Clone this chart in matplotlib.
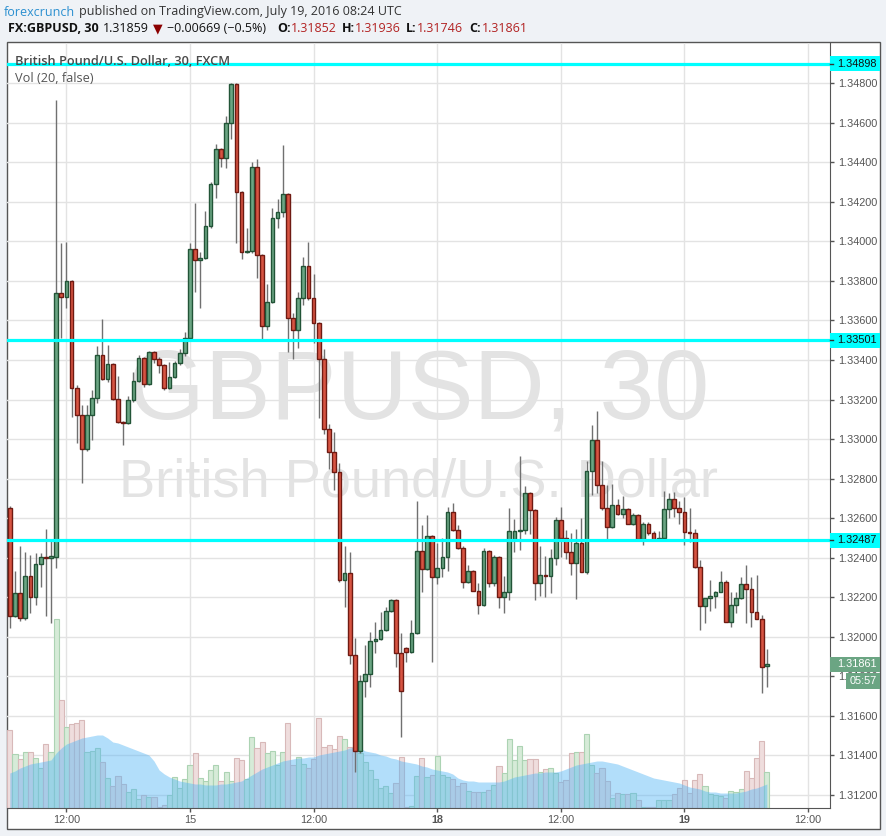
import numpy as np
import pandas as pd
import matplotlib
matplotlib.use("Agg")
import matplotlib.pyplot as plt
from matplotlib.patches import Rectangle
from matplotlib.ticker import FormatStrFormatter
from matplotlib.transforms import blended_transform_factory

plt.rcParams['font.family'] = ['Liberation Sans', 'DejaVu Sans']

# GBPUSD, 30 min bars (FXCM), 14 Jul 2016 06:30 -> 19 Jul 2016 08:00 UTC
opens = [
    1.32651, 1.32105, 1.32221, 1.32095, 1.32307, 1.32201, 1.32368, 1.32403, 1.32398, 1.32403,
    1.33739, 1.33718, 1.33800, 1.33258, 1.33122, 1.32949, 1.33122, 1.33207, 1.33425, 1.33304,
    1.33380, 1.33202, 1.33086, 1.33081, 1.33197, 1.33294, 1.33410, 1.33279, 1.33440, 1.33405,
    1.33375, 1.33258, 1.33314, 1.33385, 1.33435, 1.33511, 1.33961, 1.33906, 1.33916, 1.34078,
    1.34291, 1.34467, 1.34422, 1.34599, 1.34796, 1.34250, 1.33946, 1.33951, 1.34376, 1.33931,
    1.33572, 1.33693, 1.34118, 1.34149, 1.34240, 1.33612, 1.33552, 1.33713, 1.33875, 1.33713,
    1.33587, 1.33405, 1.33051, 1.32934, 1.32833, 1.32287, 1.32322, 1.31907, 1.31421, 1.31776,
    1.31811, 1.31978, 1.31988, 1.32034, 1.32130, 1.32185, 1.31917, 1.31942, 1.31922, 1.32019,
    1.32433, 1.32342, 1.32509, 1.32302, 1.32347, 1.32403, 1.32631, 1.32540, 1.32448, 1.32277,
    1.32332, 1.32231, 1.32160, 1.32433, 1.32272, 1.32403, 1.32201, 1.32226, 1.32494, 1.32535,
    1.32540, 1.32727, 1.32641, 1.32272, 1.32312, 1.32307, 1.32398, 1.32590, 1.32499, 1.32428,
    1.32373, 1.32474, 1.32327, 1.32838, 1.32995, 1.32767, 1.32651, 1.32555, 1.32666, 1.32621,
    1.32646, 1.32570, 1.32616, 1.32494, 1.32570, 1.32524, 1.32494, 1.32499, 1.32646, 1.32697,
    1.32651, 1.32631, 1.32530, 1.32524, 1.32353, 1.32155, 1.32195, 1.32206, 1.32226, 1.32277,
    1.32074, 1.32160, 1.32195, 1.32267, 1.32241, 1.32125, 1.32089, 1.31852,
]
highs = [
    1.32661, 1.32332, 1.32459, 1.32428, 1.32413, 1.32423, 1.32423, 1.32544, 1.32484, 1.34715,
    1.33992, 1.33997, 1.33805, 1.33273, 1.33172, 1.33172, 1.33248, 1.33471, 1.33607, 1.33476,
    1.33385, 1.33319, 1.33091, 1.33218, 1.33339, 1.33425, 1.33415, 1.33445, 1.33445, 1.33415,
    1.33380, 1.33390, 1.33395, 1.33455, 1.33541, 1.33992, 1.34194, 1.33946, 1.34154, 1.34301,
    1.34493, 1.34472, 1.34635, 1.34801, 1.34801, 1.34255, 1.34068, 1.34402, 1.34417, 1.33936,
    1.33785, 1.34169, 1.34214, 1.34487, 1.34245, 1.33638, 1.33744, 1.33921, 1.33997, 1.33835,
    1.33592, 1.33455, 1.33076, 1.33036, 1.32879, 1.32459, 1.32428, 1.31993, 1.31806, 1.31958,
    1.32024, 1.32074, 1.32125, 1.32150, 1.32190, 1.32190, 1.32019, 1.31947, 1.32084, 1.32686,
    1.32565, 1.32615, 1.32514, 1.32474, 1.32499, 1.32656, 1.32676, 1.32565, 1.32459, 1.32363,
    1.32337, 1.32272, 1.32448, 1.32438, 1.32413, 1.32408, 1.32307, 1.32651, 1.32595, 1.32914,
    1.32763, 1.32732, 1.32646, 1.32459, 1.32408, 1.32443, 1.32605, 1.32656, 1.32540, 1.32524,
    1.32544, 1.32600, 1.32889, 1.33071, 1.33142, 1.32889, 1.32767, 1.32772, 1.32697, 1.32712,
    1.32651, 1.32626, 1.32621, 1.32580, 1.32580, 1.32535, 1.32535, 1.32737, 1.32727, 1.32732,
    1.32686, 1.32707, 1.32651, 1.32544, 1.32388, 1.32195, 1.32287, 1.32231, 1.32332, 1.32287,
    1.32226, 1.32226, 1.32302, 1.32363, 1.32302, 1.32312, 1.32110, 1.31936,
]
lows = [
    1.32044, 1.32100, 1.32079, 1.32084, 1.32120, 1.32160, 1.32252, 1.32105, 1.32069, 1.32347,
    1.33511, 1.33663, 1.33111, 1.32980, 1.32778, 1.32939, 1.32995, 1.33182, 1.33299, 1.33289,
    1.33197, 1.33081, 1.32970, 1.33076, 1.33187, 1.33289, 1.33264, 1.33273, 1.33385, 1.33334,
    1.33248, 1.33253, 1.33309, 1.33375, 1.33420, 1.33506, 1.33744, 1.33663, 1.33911, 1.34068,
    1.34220, 1.34376, 1.34371, 1.34518, 1.33992, 1.33911, 1.33941, 1.33941, 1.33815, 1.33506,
    1.33552, 1.33688, 1.34068, 1.34123, 1.33440, 1.33405, 1.33460, 1.33678, 1.33703, 1.33486,
    1.33106, 1.33026, 1.32848, 1.32742, 1.32277, 1.32150, 1.31861, 1.31315, 1.31411, 1.31695,
    1.31745, 1.31917, 1.31983, 1.32029, 1.32125, 1.31846, 1.31492, 1.31871, 1.31917, 1.32014,
    1.32226, 1.32337, 1.31871, 1.32267, 1.32302, 1.32332, 1.32535, 1.32443, 1.32246, 1.32272,
    1.32231, 1.32115, 1.32155, 1.32252, 1.32257, 1.32145, 1.32120, 1.32185, 1.32428, 1.32438,
    1.32519, 1.32519, 1.32185, 1.32206, 1.32201, 1.32221, 1.32363, 1.32403, 1.32393, 1.32312,
    1.32190, 1.32327, 1.32317, 1.32717, 1.32727, 1.32641, 1.32494, 1.32550, 1.32616, 1.32600,
    1.32570, 1.32565, 1.32484, 1.32463, 1.32514, 1.32484, 1.32484, 1.32494, 1.32600, 1.32605,
    1.32570, 1.32463, 1.32479, 1.32347, 1.32034, 1.32069, 1.32130, 1.32145, 1.32226, 1.32074,
    1.32049, 1.32120, 1.32190, 1.32069, 1.32049, 1.32089, 1.31715, 1.31746,
]
closes = [
    1.32105, 1.32221, 1.32095, 1.32307, 1.32201, 1.32368, 1.32403, 1.32398, 1.32408, 1.33739,
    1.33718, 1.33800, 1.33258, 1.33122, 1.32949, 1.33122, 1.33207, 1.33425, 1.33304, 1.33380,
    1.33202, 1.33086, 1.33081, 1.33197, 1.33294, 1.33410, 1.33279, 1.33440, 1.33405, 1.33375,
    1.33258, 1.33314, 1.33385, 1.33435, 1.33511, 1.33961, 1.33906, 1.33916, 1.34078, 1.34291,
    1.34467, 1.34422, 1.34599, 1.34796, 1.34250, 1.33946, 1.33951, 1.34376, 1.33931, 1.33572,
    1.33693, 1.34118, 1.34149, 1.34240, 1.33612, 1.33552, 1.33713, 1.33875, 1.33713, 1.33587,
    1.33405, 1.33051, 1.32934, 1.32833, 1.32287, 1.32322, 1.31907, 1.31421, 1.31776, 1.31811,
    1.31978, 1.31988, 1.32034, 1.32130, 1.32185, 1.31917, 1.31725, 1.31922, 1.32019, 1.32433,
    1.32342, 1.32509, 1.32302, 1.32347, 1.32403, 1.32631, 1.32540, 1.32448, 1.32277, 1.32332,
    1.32231, 1.32160, 1.32433, 1.32272, 1.32403, 1.32201, 1.32226, 1.32535, 1.32535, 1.32540,
    1.32727, 1.32641, 1.32272, 1.32312, 1.32307, 1.32398, 1.32590, 1.32499, 1.32428, 1.32373,
    1.32474, 1.32327, 1.32838, 1.32995, 1.32767, 1.32651, 1.32555, 1.32666, 1.32621, 1.32646,
    1.32570, 1.32616, 1.32494, 1.32570, 1.32524, 1.32494, 1.32499, 1.32646, 1.32697, 1.32651,
    1.32631, 1.32530, 1.32524, 1.32353, 1.32155, 1.32195, 1.32206, 1.32226, 1.32277, 1.32074,
    1.32160, 1.32195, 1.32267, 1.32241, 1.32125, 1.32089, 1.31846, 1.31861,
]
# tick volume and its 20 bar average
volumes = [
    780, 540, 490, 560, 560, 500, 400, 640, 560, 1890,
    1080, 810, 840, 850, 880, 560, 570, 600, 460, 300,
    220, 320, 240, 160, 190, 90, 130, 110, 110, 10,
    30, 130, 310, 200, 290, 430, 550, 300, 270, 380,
    430, 270, 360, 270, 500, 480, 290, 710, 600, 660,
    550, 570, 430, 560, 850, 430, 510, 440, 400, 490,
    900, 610, 630, 590, 720, 690, 610, 590, 550, 460,
    380, 290, 200, 220, 150, 250, 510, 10, 20, 320,
    500, 310, 330, 520, 330, 310, 290, 220, 250, 170,
    160, 160, 160, 180, 230, 420, 350, 690, 480, 620,
    480, 490, 490, 360, 390, 400, 350, 260, 280, 550,
    560, 560, 740, 430, 350, 400, 270, 100, 150, 140,
    140, 150, 80, 10, 10, 10, 80, 80, 80, 140,
    200, 280, 150, 280, 340, 220, 140, 130, 120, 100,
    170, 160, 190, 370, 300, 500, 670, 360,
]
vol_ma = [
    350, 370, 400, 420, 440, 450, 460, 470, 480, 550,
    600, 640, 660, 680, 700, 710, 720, 730, 730, 700,
    660, 650, 630, 610, 590, 570, 550, 530, 470, 380,
    340, 310, 290, 270, 260, 250, 240, 240, 230, 230,
    230, 240, 240, 250, 260, 270, 300, 330, 360, 390,
    410, 430, 450, 470, 480, 490, 500, 500, 510, 510,
    530, 540, 550, 560, 570, 580, 600, 610, 600, 570,
    560, 550, 530, 520, 500, 490, 470, 460, 450, 440,
    420, 410, 390, 380, 370, 360, 340, 300, 280, 270,
    270, 260, 260, 260, 260, 260, 270, 290, 310, 320,
    330, 340, 350, 350, 360, 360, 360, 370, 390, 410,
    430, 440, 450, 460, 470, 470, 460, 450, 440, 420,
    400, 380, 360, 340, 320, 300, 290, 280, 270, 260,
    250, 230, 210, 200, 190, 170, 160, 160, 150, 150,
    150, 150, 160, 170, 190, 200, 220, 240,
]
levels = [1.34898, 1.33501, 1.32487]
price_ticks = np.round(np.arange(1.312, 1.3481, 0.002), 3)
last_price = 1.31861
countdown = "05:57"

# bar clock: market shut Fri 21:00 -> Sun 21:00 UTC, plus empty slots to the right
t = pd.date_range("2016-07-14 06:30", "2016-07-19 13:00", freq="30min")
times = t[~((t >= "2016-07-15 21:00") & (t < "2016-07-17 21:00"))]
tick_idx = [i for i, ts in enumerate(times) if ts.minute == 0 and ts.hour in (0, 12)]
tick_lab = ["12:00" if times[i].hour == 12 else str(times[i].day) for i in tick_idx]

W, H = 887, 836
fig = plt.figure(figsize=(W / 100, H / 100), dpi=100, facecolor='#eff2f6')


def fx(px):
    return px / W


def fy(py):
    return 1 - py / H


fig.patches.append(Rectangle((fx(7), fy(829)), fx(880) - fx(7), fy(42) - fy(829),
                             transform=fig.transFigure, facecolor='white',
                             edgecolor='#555555', lw=1, zorder=-1))
ax = fig.add_axes([fx(7), fy(808), fx(830) - fx(7), fy(43) - fy(808)])
ax.set_facecolor('none')

o, h, l, c = map(np.array, (opens, highs, lows, closes))
x = np.arange(len(o))
up = c >= o
GREEN, GREEN_EDGE = '#6ba583', '#225437'
RED, RED_EDGE = '#d75442', '#6f1a12'

ymin, ymax = 1.31133, 1.35004
ax.set_xlim(-0.54, 159.26)
ax.set_ylim(ymin, ymax)

# watermark
wm = dict(transform=ax.transAxes, ha='center', va='center', color='#e3e3e3', zorder=0.2)
ax.text(0.5, 0.543, "GBPUSD, 30", fontsize=71, **wm)
ax.text(0.5, 0.425, "British Pound/U.S. Dollar", fontsize=39, **wm)

ax.set_axisbelow(True)
ax.grid(True, color='#e3e3e3', lw=1)

# volume pane in the bottom of the chart
vt = ax.get_xaxis_transform()
vol_top = 7650
ax.bar(x, np.array(volumes) / vol_top, width=1.0, transform=vt,
       color=np.where(up, '#d6ebd8', '#efdddd'),
       edgecolor=np.where(up, '#acd3b3', '#d8b9b9'),
       linewidth=0.8, zorder=2)
ax.fill_between(x, 0, np.array(vol_ma) / vol_top, transform=vt,
                color='#55b6f5', alpha=0.45, lw=0, zorder=2.5)

# candles
ax.vlines(x, l, h, color='#707070', lw=1, zorder=3)
ax.bar(x, np.maximum(np.abs(c - o), 0.00003), bottom=np.minimum(o, c), width=0.72,
       color=np.where(up, GREEN, RED), edgecolor=np.where(up, GREEN_EDGE, RED_EDGE),
       linewidth=1, zorder=4)

for lv in levels:
    ax.axhline(lv, color='#00ffff', lw=2.3, zorder=5)

# axes
for side in ('left', 'top'):
    ax.spines[side].set_visible(False)
for side in ('right', 'bottom'):
    ax.spines[side].set_color('#555555')
ax.yaxis.tick_right()
ax.set_yticks(price_ticks)
ax.yaxis.set_major_formatter(FormatStrFormatter('%.5f'))
ax.set_xticks(tick_idx, tick_lab)
ax.tick_params(colors='#555555', labelsize=7.8, length=3, width=1)
ax.tick_params(axis='y', pad=3)
ax.tick_params(axis='x', pad=2)
for lab in ax.get_xticklabels():
    if lab.get_text() in ('18', '19'):
        lab.set_fontweight('bold')

# price tags on the right axis
trans = blended_transform_factory(ax.transAxes, ax.transData)
pxx = 1 / 823
pxy = (ymax - ymin) / 765


def tag(y, text, face, color, x0=0, w=50, hgt=15, center=False):
    ax.add_patch(Rectangle((1 + x0 * pxx, y - hgt / 2 * pxy), w * pxx, hgt * pxy,
                           transform=trans, facecolor=face, edgecolor='none',
                           clip_on=False, zorder=10))
    if center:
        ax.text(1 + (x0 + w / 2) * pxx, y, text, transform=trans, ha='center', va='center',
                color=color, fontsize=7.8, zorder=11, clip_on=False)
    else:
        ax.text(1 + 7 * pxx, y, text, transform=trans, ha='left', va='center',
                color=color, fontsize=7.8, zorder=11, clip_on=False)


for lv in levels:
    tag(lv, f"{lv:.5f}", '#00ffff', '#111111')
    ax.plot([1, 1 + 3 * pxx], [lv, lv], transform=trans, color='#333333', lw=1,
            clip_on=False, zorder=11)
tag(last_price, f"{last_price:.5f}", '#6ba583', 'white')
tag(last_price - 17 * pxy, countdown, '#6ba583', 'white', x0=16, w=34, hgt=16, center=True)

# pane legends
leg = dict(transform=ax.transAxes, ha='left', va='center', family=['Open Sans', 'DejaVu Sans'])
ax.text(8 * pxx, 0.9752, "British Pound/U.S. Dollar, 30, FXCM",
        fontsize=9.2, color='#4a4a4a', fontweight='semibold', zorder=6, **leg)
ax.text(8 * pxx, 0.9530, "Vol (20, false)", fontsize=9.2, color='#555555', **leg)

# header
hd = dict(family=['Open Sans', 'DejaVu Sans'], fontsize=9, va='center')
fig.text(fx(4), fy(12), "forexcrunch", color='#2a8fd0', **hd)
fig.text(fx(79), fy(12), "published on TradingView.com, July 19, 2016 08:24 UTC", color='#333333', **hd)
row = fy(29)
fig.text(fx(8), row, "FX:GBPUSD, 30", color='#111111', fontweight='bold', **hd)
fig.text(fx(103), row, "1.31859", color='#111111', **hd)
fig.text(fx(153), row, "\u25bc", color='#8b0000', **hd)
fig.text(fx(167), row, "\u22120.00669 (\u22120.5%)", color='#111111', **hd)
for xl, lab, xv, val in [(277, "O:", 291, "1.31852"), (342, "H:", 355, "1.31936"),
                         (406, "L:", 417, "1.31746"), (469, "C:", 482, "1.31861")]:
    fig.text(fx(xl), row, lab, color='#111111', fontweight='bold', **hd)
    fig.text(fx(xv), row, val, color='#b22222', **hd)

fig.savefig("out.png", dpi=100, facecolor=fig.get_facecolor())
